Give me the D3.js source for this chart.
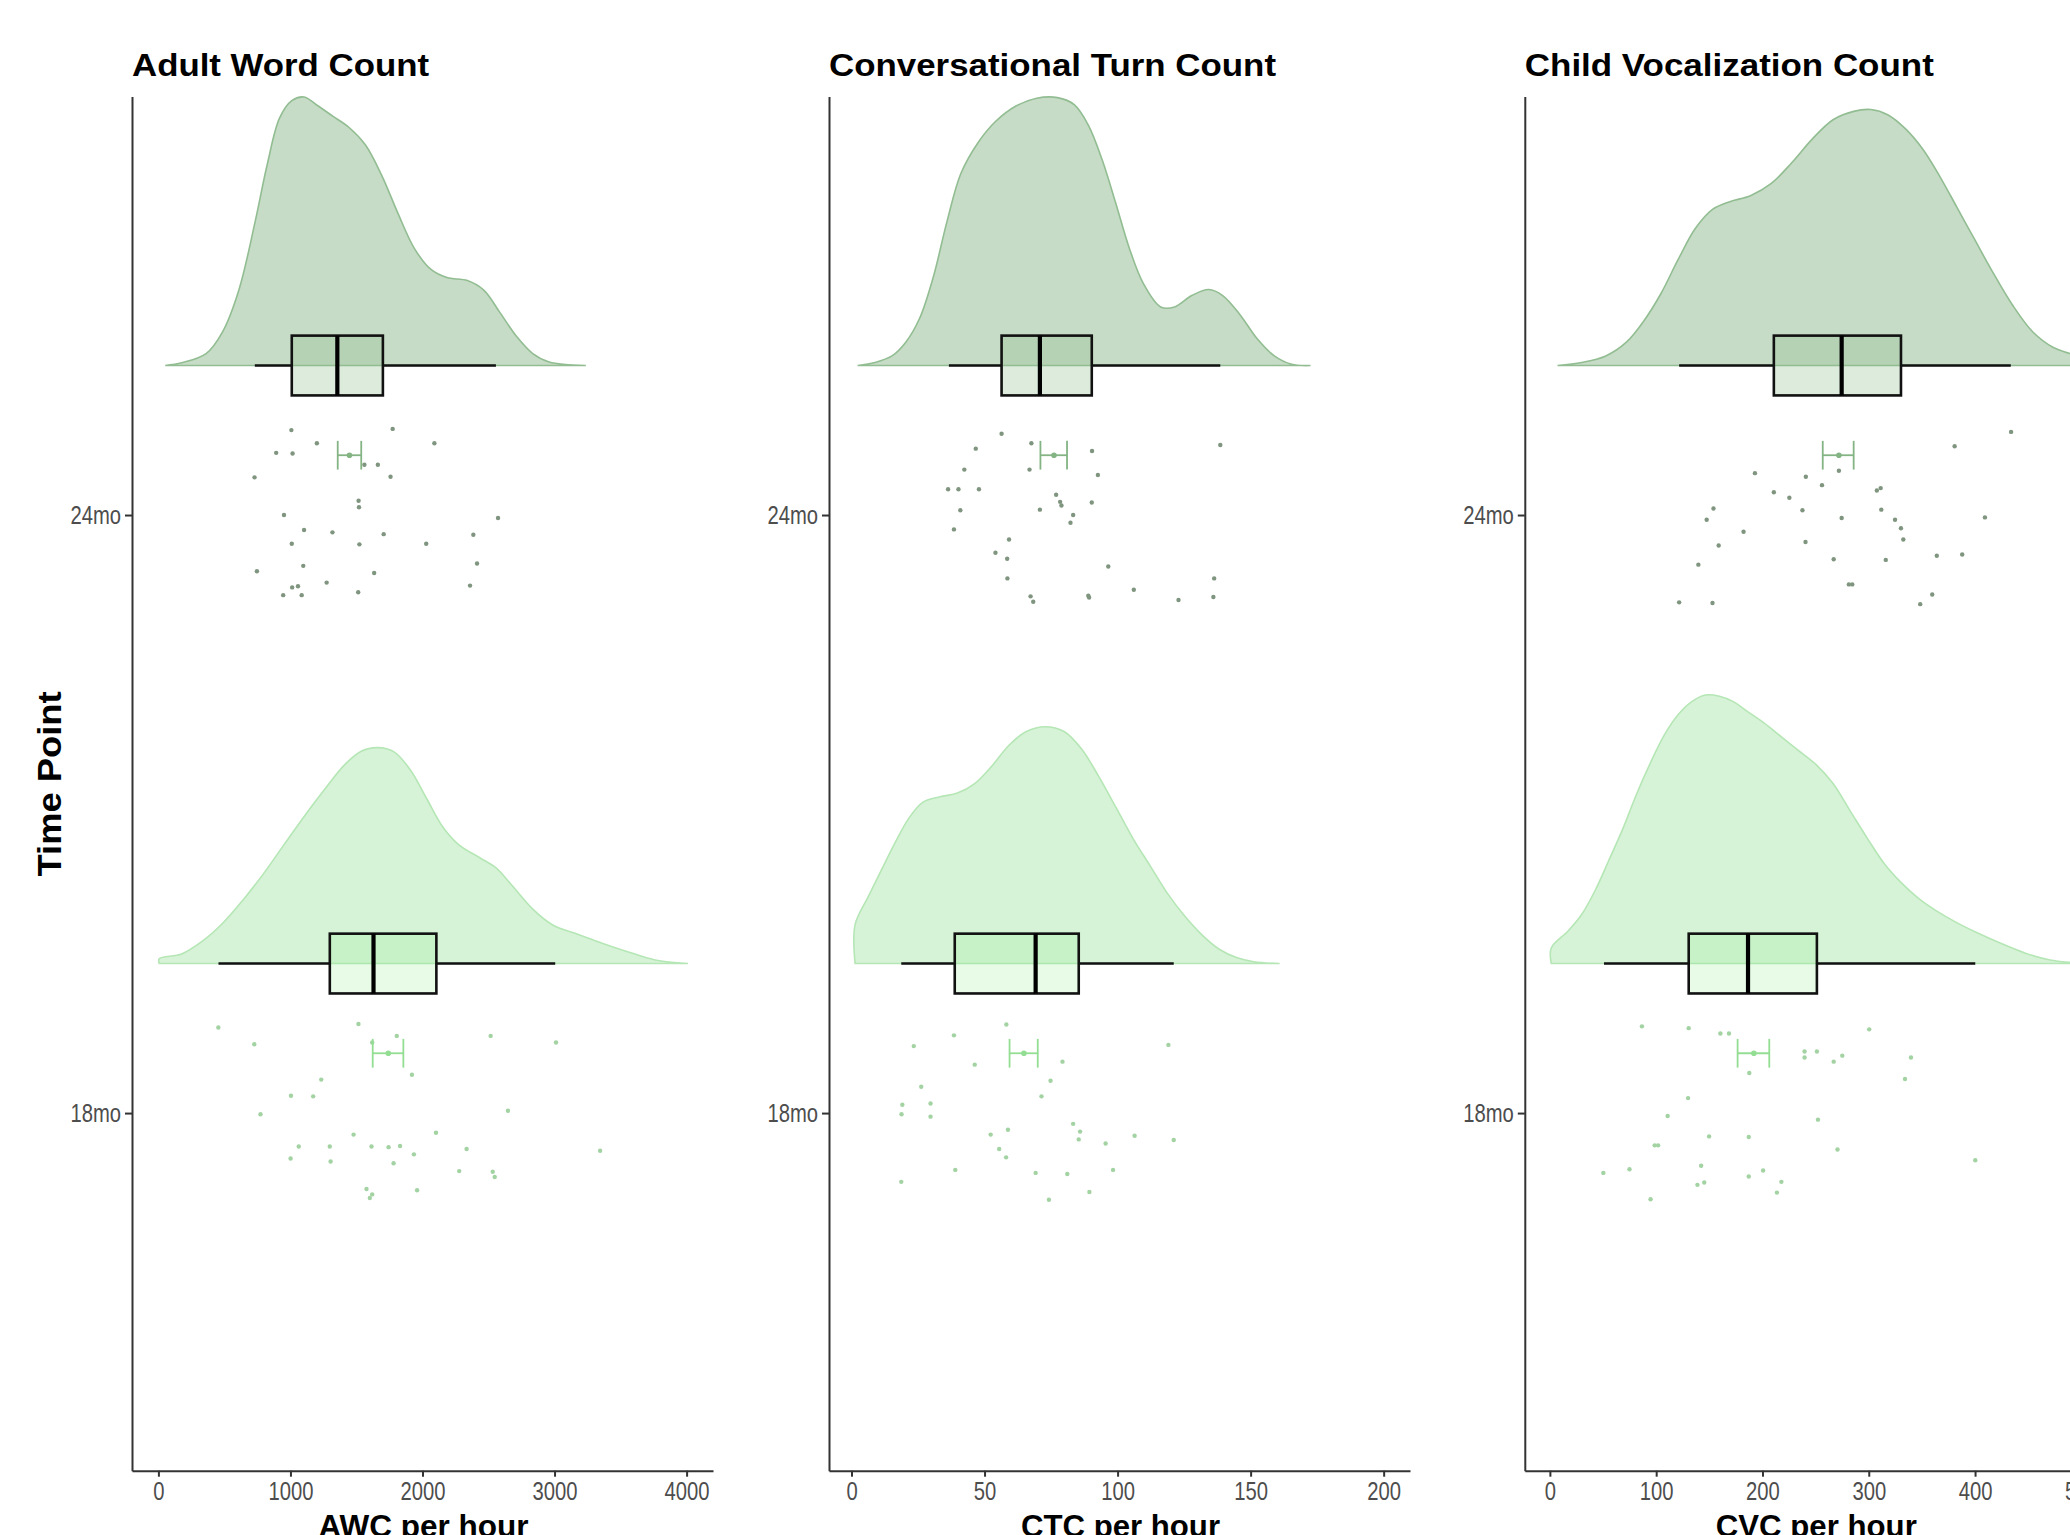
<!DOCTYPE html>
<html>
<head>
<meta charset="UTF-8">
<script src="https://d3js.org/d3.v7.min.js"></script>
<style>
  body { margin: 0; background: #fff; }
  svg text { font-family: "Liberation Sans", Arial, sans-serif; }
  .tick text { fill: #4d4d4d; }
  .domain, .tick line { stroke: #333; stroke-width: 2px; }
</style>
</head>
<body>
<svg width="2070" height="1535"></svg>
<script>
// categories
const timePoints = ["18mo", "24mo"];
const panelTitles = ["Adult Word Count", "Conversational Turn Count", "Child Vocalization Count"];
const xTitles = ["AWC per hour", "CTC per hour", "CVC per hour"];
const xTicks = [[0, 1000, 2000, 3000, 4000], [0, 50, 100, 150, 200], [0, 100, 200, 300, 400, 500]];

// density outlines [value, height in category units]
const awc24Density = [[52,0],[176,0.0045],[361,0.020],[485,0.056],[609,0.126],[733,0.241],[825,0.337],[918,0.414],[1010,0.443],[1104,0.449],[1196,0.436],[1320,0.417],[1444,0.398],[1567,0.369],[1691,0.318],[1815,0.254],[1938,0.196],[2062,0.161],[2185,0.147],[2340,0.142],[2464,0.126],[2588,0.088],[2711,0.049],[2835,0.020],[2959,0.006],[3237,0]];
const awc18Density = [[6,0],[6,0.008],[176,0.016],[330,0.037],[485,0.067],[640,0.106],[795,0.15],[949,0.198],[1104,0.246],[1258,0.291],[1413,0.333],[1536,0.355],[1660,0.361],[1784,0.354],[1907,0.324],[2031,0.276],[2155,0.228],[2278,0.198],[2433,0.177],[2557,0.16],[2680,0.13],[2835,0.091],[2990,0.064],[3175,0.049],[3360,0.034],[3577,0.018],[3762,0.006],[4010,0]];
const ctc24Density = [[2.3,0],[8.8,0.005],[15.2,0.016],[20.4,0.039],[25.6,0.079],[30.8,0.149],[35.9,0.241],[41.1,0.321],[47.6,0.373],[54.1,0.408],[61.8,0.434],[69.6,0.447],[77.4,0.448],[83.8,0.436],[89,0.402],[94.2,0.344],[99.4,0.27],[104.5,0.195],[109.7,0.137],[116.2,0.098],[121.4,0.098],[127.9,0.117],[134.3,0.127],[139.5,0.117],[146,0.085],[152.4,0.045],[158.9,0.016],[165.4,0.002],[172.5,0]];
const ctc18Density = [[1.35,0],[1.35,0.065],[6.2,0.111],[11.3,0.157],[16.5,0.203],[21.7,0.244],[26.9,0.27],[33.3,0.279],[39.8,0.285],[46.3,0.301],[52.7,0.33],[59.2,0.365],[65.7,0.388],[72.8,0.396],[79.9,0.388],[86.4,0.359],[92.9,0.313],[99.4,0.261],[105.8,0.209],[112.3,0.163],[118.8,0.117],[125.3,0.079],[131.7,0.048],[138.2,0.024],[144.7,0.010],[151.2,0.003],[160.9,0]];
const cvc24Density = [[7.2,0],[29.9,0.005],[52.6,0.016],[72,0.039],[88.2,0.074],[104.4,0.12],[120.6,0.177],[136.8,0.229],[153,0.261],[169.2,0.274],[188.7,0.284],[208,0.304],[227.5,0.339],[247,0.379],[266.4,0.411],[285.8,0.425],[302,0.428],[318.2,0.419],[334.4,0.396],[350.7,0.362],[366.9,0.316],[383.1,0.264],[399.2,0.212],[415.4,0.16],[434.9,0.102],[454.4,0.056],[473.7,0.030],[489.3,0.020],[515,0.006],[548,0]];
const cvc18Density = [[1.3,0],[1.3,0.026],[16.9,0.054],[29.9,0.082],[42.8,0.123],[55.8,0.174],[68.8,0.226],[81.7,0.284],[94.7,0.336],[107.6,0.382],[120.6,0.416],[133.5,0.438],[146.5,0.449],[159.5,0.447],[172.5,0.438],[185.4,0.422],[201.7,0.402],[217.8,0.379],[234,0.356],[250.2,0.333],[266.4,0.301],[282.6,0.255],[298.8,0.209],[315,0.166],[331.2,0.134],[347.4,0.108],[363.6,0.088],[383.1,0.068],[402.5,0.051],[425.2,0.033],[447.9,0.017],[470.6,0.006],[489.3,0.002],[510,0]];

// box stats: [lower whisker, q1, median, q3, upper whisker]
const awc24Box = [730, 1010, 1355, 1700, 2556];
const awc18Box = [455, 1298, 1629, 2105, 3005];
const ctc24Box = [36.6, 56.4, 70.8, 90.3, 138.6];
const ctc18Box = [18.7, 38.8, 69.2, 85.4, 121.1];
const cvc24Box = [121.6, 210.7, 274.5, 330.3, 433.6];
const cvc18Box = [50.9, 130.6, 186.4, 251.2, 400.2];

// mean with error bar: [mean, low, high]
const awc24Mean = [1447, 1358, 1536];
const awc18Mean = [1741, 1623, 1855];
const ctc24Mean = [76.1, 71, 81];
const ctc18Mean = [64.8, 59.4, 70];
const cvc24Mean = [271.9, 256.7, 285.8];
const cvc18Mean = [191.9, 176.6, 206.4];

// raw points: [value, vertical jitter]
const awc24Points = [[1007,0.142],[1774,0.144],[1200,0.12],[2090,0.12],[892,0.104],[1016,0.103],[1560,0.084],[1662,0.084],[1758,0.064],[728,0.063],[1516,0.024],[1519,0.013],[951,0.0],[2572,-0.005],[1103,-0.025],[1318,-0.029],[1706,-0.032],[2385,-0.033],[1010,-0.048],[1522,-0.049],[2028,-0.048],[2413,-0.081],[1097,-0.085],[746,-0.094],[1634,-0.097],[1274,-0.113],[2360,-0.118],[1013,-0.121],[1057,-0.119],[945,-0.134],[1085,-0.134],[1513,-0.129]];
const awc18Points = [[454,0.143],[1515,0.149],[1805,0.129],[2516,0.129],[726,0.115],[3011,0.118],[1619,0.118],[1920,0.064],[1233,0.056],[1004,0.029],[1172,0.028],[773,-0.002],[2647,0.004],[1478,-0.036],[2102,-0.033],[1063,-0.056],[1298,-0.056],[1614,-0.056],[1743,-0.057],[1830,-0.055],[2334,-0.06],[3345,-0.063],[1935,-0.069],[1001,-0.076],[1304,-0.081],[1781,-0.084],[2278,-0.097],[2532,-0.098],[2547,-0.107],[1576,-0.127],[1619,-0.136],[1601,-0.142],[1959,-0.129]];
const ctc24Points = [[56.4,0.136],[67.6,0.12],[46.7,0.111],[90.4,0.107],[138.6,0.117],[42.4,0.076],[66.9,0.076],[92.6,0.067],[36.3,0.043],[40.2,0.043],[47.9,0.043],[76.9,0.034],[78.4,0.022],[78.9,0.016],[90.3,0.021],[40.9,0.008],[70.8,0.009],[83.3,0.0],[82.3,-0.013],[38.5,-0.024],[59.2,-0.041],[54.1,-0.063],[58.5,-0.073],[96.5,-0.086],[58.6,-0.106],[136.3,-0.106],[106.1,-0.125],[67.3,-0.136],[68.3,-0.145],[89,-0.135],[89.3,-0.138],[122.9,-0.142],[136,-0.137]];
const ctc18Points = [[58.2,0.148],[38.5,0.13],[23.4,0.112],[119.1,0.114],[46.3,0.081],[79.3,0.086],[74.8,0.054],[26.2,0.044],[71.4,0.028],[19.1,0.014],[29.7,0.016],[18.8,-0.002],[29.7,-0.006],[83.3,-0.018],[58.8,-0.028],[52.3,-0.036],[85.9,-0.031],[85.4,-0.044],[106.4,-0.038],[121.1,-0.045],[95.5,-0.051],[55.5,-0.06],[58.1,-0.074],[39,-0.095],[98.3,-0.095],[18.7,-0.115],[69.2,-0.1],[81.1,-0.102],[89.4,-0.132],[74.2,-0.145]];
const cvc24Points = [[433.9,0.139],[380.8,0.115],[192.9,0.07],[240.8,0.064],[271.9,0.074],[256,0.05],[210.7,0.038],[225.3,0.029],[307.6,0.041],[311.2,0.045],[153.9,0.011],[147.5,-0.008],[237.6,0.008],[311.8,0.009],[274.5,-0.005],[324.7,-0.008],[409.3,-0.004],[330.3,-0.022],[182.2,-0.028],[332.5,-0.041],[240.5,-0.045],[158.8,-0.051],[139.7,-0.083],[267,-0.074],[316,-0.075],[364,-0.068],[387.9,-0.066],[281.3,-0.116],[284.5,-0.116],[121.6,-0.146],[153,-0.147],[348.4,-0.149],[359.7,-0.133]];
const cvc18Points = [[86.6,0.145],[130.6,0.142],[160.4,0.133],[168.5,0.133],[300.4,0.14],[239.6,0.103],[239.6,0.093],[251.2,0.103],[275.1,0.096],[267,0.086],[339.7,0.093],[187.6,0.067],[334.1,0.057],[130,0.025],[110.8,-0.005],[252.2,-0.011],[149.8,-0.039],[187.1,-0.04],[98.6,-0.054],[101.8,-0.054],[270.6,-0.061],[400.2,-0.079],[142.3,-0.088],[50.3,-0.1],[74.9,-0.094],[200.6,-0.096],[187.1,-0.106],[138.8,-0.12],[145.2,-0.116],[217.8,-0.115],[213.6,-0.133],[94.7,-0.144]];

// styles per time point (index 0 = 18mo, 1 = 24mo)
const style = [
  { fill: "#d7f3d7", line: "#b5e6b5", box: "#90ee90", boxAlpha: 0.22, point: "#a3d3a3", err: "#93de93" },
  { fill: "#c6dcc6", line: "#92bd92", box: "#8fbc8f", boxAlpha: 0.3, point: "#7f957f", err: "#84b484" }
];

const panels = [
  { left: 132, domain: [-200, 4200], dens: [awc18Density, awc24Density], box: [awc18Box, awc24Box], mean: [awc18Mean, awc24Mean], pts: [awc18Points, awc24Points] },
  { left: 829, domain: [-8.46, 209.9], dens: [ctc18Density, ctc24Density], box: [ctc18Box, ctc24Box], mean: [ctc18Mean, ctc24Mean], pts: [ctc18Points, ctc24Points] },
  { left: 1524.8, domain: [-23.6, 523], dens: [cvc18Density, cvc24Density], box: [cvc18Box, cvc24Box], mean: [cvc18Mean, cvc24Mean], pts: [cvc18Points, cvc24Points] }
];
const panelWidth = 581;

const svg = d3.select("svg");
const y = d3.scaleLinear().domain([0.402, 2.70]).range([1470.7, 96.4]);

function squeeze(sel, k) {
  sel.each(function () {
    const w = this.getComputedTextLength();
    d3.select(this).attr("textLength", w * k).attr("lengthAdjust", "spacingAndGlyphs");
  });
}

panels.forEach((p, pi) => {
  const x = d3.scaleLinear().domain(p.domain).range([p.left, p.left + panelWidth]);
  const g = svg.append("g");

  [1, 0].forEach(i => {
    const cat = i + 1;
    const base = cat + 0.25;
    const s = style[i];

    // flat density
    const area = d3.area()
      .x(d => x(d[0]))
      .y0(y(base))
      .y1(d => y(base + d[1]))
      .curve(d3.curveCatmullRom.alpha(0.5));
    g.append("path")
      .datum(p.dens[i])
      .attr("d", area)
      .attr("fill", s.fill)
      .attr("stroke", s.line)
      .attr("stroke-width", 1.6);

    // box plot
    const b = p.box[i];
    g.append("line").attr("x1", x(b[0])).attr("x2", x(b[1]))
      .attr("y1", y(base)).attr("y2", y(base)).attr("stroke", "#111").attr("stroke-width", 2.6);
    g.append("line").attr("x1", x(b[3])).attr("x2", x(b[4]))
      .attr("y1", y(base)).attr("y2", y(base)).attr("stroke", "#111").attr("stroke-width", 2.6);
    g.append("rect")
      .attr("x", x(b[1])).attr("width", x(b[3]) - x(b[1]))
      .attr("y", y(base + 0.05)).attr("height", y(base - 0.05) - y(base + 0.05))
      .attr("fill", s.box).attr("fill-opacity", s.boxAlpha)
      .attr("stroke", "#111").attr("stroke-width", 2.6);
    g.append("line").attr("x1", x(b[2])).attr("x2", x(b[2]))
      .attr("y1", y(base + 0.05)).attr("y2", y(base - 0.05))
      .attr("stroke", "#000").attr("stroke-width", 4.2);

    // raw points
    g.append("g").selectAll("circle")
      .data(p.pts[i])
      .join("circle")
      .attr("cx", d => x(d[0]))
      .attr("cy", d => y(cat + d[1]))
      .attr("r", 2.2)
      .attr("fill", s.point);

    // mean and error bar
    const m = p.mean[i];
    const my = cat + 0.1;
    const eg = g.append("g").attr("stroke", s.err).attr("stroke-width", 1.8);
    eg.append("line").attr("x1", x(m[1])).attr("x2", x(m[2])).attr("y1", y(my)).attr("y2", y(my));
    eg.append("line").attr("x1", x(m[1])).attr("x2", x(m[1])).attr("y1", y(my + 0.024)).attr("y2", y(my - 0.024));
    eg.append("line").attr("x1", x(m[2])).attr("x2", x(m[2])).attr("y1", y(my + 0.024)).attr("y2", y(my - 0.024));
    g.append("circle").attr("cx", x(m[0])).attr("cy", y(my)).attr("r", 2.8).attr("fill", s.err);
  });

  // axes
  const xa = g.append("g")
    .attr("transform", `translate(0,${y.range()[0]})`)
    .call(d3.axisBottom(x).tickValues(xTicks[pi]).tickFormat(d3.format("d")).tickSize(6).tickPadding(5).tickSizeOuter(0));
  const ya = g.append("g")
    .attr("transform", `translate(${p.left},0)`)
    .call(d3.axisLeft(y).tickValues([1, 2]).tickFormat(v => timePoints[v - 1]).tickSize(7).tickPadding(4).tickSizeOuter(0));
  [xa, ya].forEach(a => {
    a.attr("font-size", 25.6).attr("font-family", "'Liberation Sans', Arial, sans-serif");
    squeeze(a.selectAll(".tick text"), 0.79);
  });

  // titles
  const titleWidths = [297, 447, 409];
  g.append("text")
    .attr("x", p.left).attr("y", 76)
    .attr("font-size", 32).attr("font-weight", "bold")
    .attr("textLength", titleWidths[pi]).attr("lengthAdjust", "spacingAndGlyphs")
    .text(panelTitles[pi]);

  const xTitleWidths = [210, 199, 201];
  g.append("text")
    .attr("x", x(p.domain[0]) + panelWidth / 2 + 1).attr("y", 1537)
    .attr("text-anchor", "middle")
    .attr("font-size", 32).attr("font-weight", "bold")
    .attr("textLength", xTitleWidths[pi]).attr("lengthAdjust", "spacingAndGlyphs")
    .text(xTitles[pi]);
});

svg.append("text")
  .attr("transform", "translate(61,784) rotate(-90)")
  .attr("text-anchor", "middle")
  .attr("font-size", 34).attr("font-weight", "bold")
  .attr("textLength", 185).attr("lengthAdjust", "spacingAndGlyphs")
  .text("Time Point");
</script>
</body>
</html>
